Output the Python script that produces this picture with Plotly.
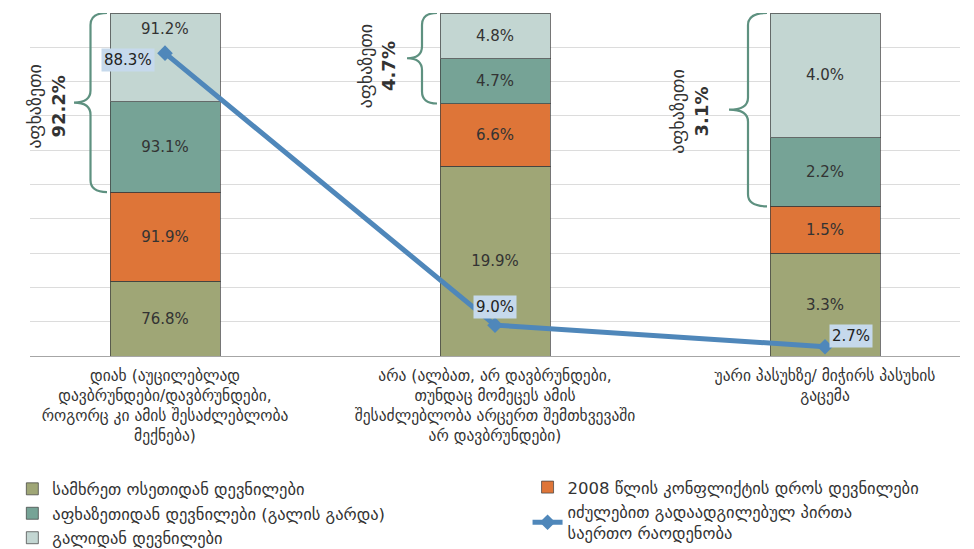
import plotly.graph_objects as go

# ---------------- data ----------------
categories = [
    "დიახ (აუცილებლად<br>დავბრუნდები/დავბრუნდები,<br>როგორც კი ამის შესაძლებლობა<br>მექნება)",
    "არა (ალბათ, არ დავბრუნდები,<br>თუნდაც მომეცეს ამის<br>შესაძლებლობა არცერთ შემთხვევაში<br>არ დავბრუნდები)",
    "უარი პასუხზე/ მიჭირს პასუხის<br>გაცემა",
]
series_names = [
    "სამხრეთ ოსეთიდან დევნილები",
    "2008 წლის კონფლიქტის დროს დევნილები",
    "აფხაზეთიდან დევნილები (გალის გარდა)",
    "გალიდან დევნილები",
]
south_ossetia = [76.8, 19.9, 3.3]
conflict_2008 = [91.9, 6.6, 1.5]
abkhazia_excl_gali = [93.1, 4.7, 2.2]
gali = [91.2, 4.8, 4.0]
abkhazia_total = [92.2, 4.7, 3.1]
line_name = "იძულებით გადაადგილებულ პირთა<br>საერთო რაოდენობა"
idp_total = [88.3, 9.0, 2.7]
abkhazia_label = "აფხაზეთი"

# ---------------- style ----------------
colors = ["#9FA676", "#DE7538", "#76A396", "#C3D6D2"]
line_color = "#4F87BA"
txt_color = "#333333"
FONT = "DejaVu Sans"
xs = list(range(len(categories)))
bar_w = 1 / 3
# the page body adds an 8px offset; compensate so the picture lines up
OFF = 8

fig = go.Figure()
all_series = [south_ossetia, conflict_2008, abkhazia_excl_gali, gali]
legend_of = ["legend", "legend2", "legend", "legend"]
for i, (name, vals) in enumerate(zip(series_names, all_series)):
    texts = [f"{v:.1f}%" for v in vals]
    if i == 3:
        texts = [""] + texts[1:]
    fig.add_trace(go.Bar(
        x=xs, y=vals, name=name, width=bar_w,
        marker=dict(color=colors[i], line=dict(color="rgba(60,60,60,0.7)", width=1)),
        text=texts, textposition="inside", insidetextanchor="middle",
        textfont=dict(size=15, color=txt_color, family=FONT),
        constraintext="none", hoverinfo="skip",
        legend=legend_of[i],
    ))

fig.add_trace(go.Scatter(
    x=xs, y=idp_total, name=line_name, mode="lines+markers",
    line=dict(color=line_color, width=5),
    marker=dict(symbol="diamond", size=12, color=line_color),
    legend="legend2", hoverinfo="skip",
))

# label for the top segment of the first bar (placed near top of segment)
fig.add_annotation(x=xs[0], y=100, yref="y", text=f"{gali[0]:.1f}%",
                   showarrow=False, yanchor="top", yshift=-5,
                   font=dict(size=15, color=txt_color, family=FONT))

# line data labels
label_offsets = [(-10, -7, "right"), (0, 18, "center"), (26, 11, "center")]
for x, v, (dx, dy, anc) in zip(xs, idp_total, label_offsets):
    fig.add_annotation(x=x, y=v, text=f"{v:.1f}%", showarrow=False,
                       xshift=dx, yshift=dy, xanchor=anc, yanchor="middle",
                       bgcolor="#C6D9EC", borderpad=2,
                       font=dict(size=15, color="#222222", family=FONT))

# braces around Abkhazia segments
px_per_x = 330.0
px_per_y = 3.424
brace_col = "#5E9180"
brace_width_px = [33, 30, 38]
text_shift = [(-4, -4), (-6, -8), (-16, -2)]
for i, x in enumerate(xs):
    tot = south_ossetia[i] + conflict_2008[i] + abkhazia_excl_gali[i] + gali[i]
    y_bot = (south_ossetia[i] + conflict_2008[i]) / tot * 100
    y_top = 100.0
    y_mid = (y_bot + y_top) / 2
    xr = x - bar_w / 2 - 3 / px_per_x
    xt = xr - brace_width_px[i] / px_per_x
    xm = (xr + xt) / 2
    r = 12 / px_per_y
    path = (f"M{xr},{y_top} Q{xm},{y_top} {xm},{y_top - r} "
            f"L{xm},{y_mid + r} Q{xm},{y_mid} {xt},{y_mid} "
            f"Q{xm},{y_mid} {xm},{y_mid - r} "
            f"L{xm},{y_bot + r} Q{xm},{y_bot} {xr},{y_bot}")
    fig.add_shape(type="path", path=path, xref="x", yref="y",
                  line=dict(color=brace_col, width=2.2))
    fig.add_annotation(x=xt, y=y_mid, text=f"{abkhazia_label}<br><b>{abkhazia_total[i]:.1f}%</b>",
                       textangle=-90, showarrow=False, xanchor="right",
                       xshift=text_shift[i][0], yshift=text_shift[i][1],
                       font=dict(size=18, color=txt_color, family=FONT))

fig.update_layout(
    width=974 - OFF, height=549 - OFF,
    barmode="stack", barnorm="percent",
    plot_bgcolor="white", paper_bgcolor="white",
    margin=dict(l=30 - OFF, r=14, t=13 - OFF, b=193, autoexpand=False),
    font=dict(family=FONT, color=txt_color),
    legend=dict(x=-0.019, y=-0.337, xanchor="left", yanchor="top",
                traceorder="normal",
                font=dict(size=16.5, color=txt_color, family=FONT),
                tracegroupgap=0, itemwidth=30, bgcolor="rgba(0,0,0,0)"),
    legend2=dict(x=0.535, y=-0.332, xanchor="left", yanchor="top",
                 traceorder="normal",
                 font=dict(size=16.5, color=txt_color, family=FONT),
                 tracegroupgap=0, itemwidth=30, bgcolor="rgba(0,0,0,0)"),
    xaxis=dict(range=[-135 / 330, 2 + 135 / 330], tickvals=xs, ticktext=categories,
               tickfont=dict(size=15.5, color=txt_color, family=FONT),
               showgrid=False, showline=True, linecolor="#A6A6A6", linewidth=1,
               ticks="", zeroline=False, tickangle=0, automargin=False,
               ticklabelstandoff=5),
    yaxis=dict(range=[0, 100], dtick=10, showgrid=True, gridcolor="#DCDCDC",
               gridwidth=1, showticklabels=False, zeroline=False, showline=False,
               automargin=False),
)

fig.write_html("out.html")
